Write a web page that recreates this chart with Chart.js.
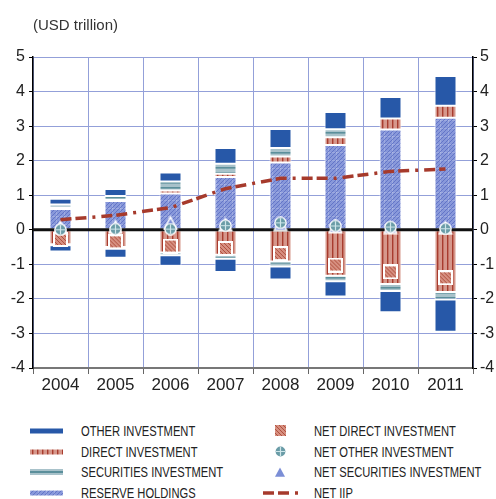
<!DOCTYPE html>
<html>
<head>
<meta charset="utf-8">
<script src="https://cdn.jsdelivr.net/npm/chart.js@4.4.1/dist/chart.umd.min.js"></script>
<style>
  html,body{margin:0;padding:0;background:#fff;}
  #wrap{position:relative;width:496px;height:499px;overflow:hidden;}
  #chartBox{position:absolute;left:0;top:0;width:496px;height:410px;}
  #unit{position:absolute;left:33px;top:16px;font:15px "Liberation Sans",Arial,sans-serif;color:#333;line-height:18px;}
  .lg{position:absolute;font:15px "Liberation Sans",Arial,sans-serif;color:#222;line-height:18px;white-space:nowrap;transform:scaleX(0.745);transform-origin:0 50%;}
  .sw{position:absolute;}
</style>
</head>
<body>
<div id="wrap">
  <div id="chartBox"><canvas id="c"></canvas></div>
  <div id="unit">(USD trillion)</div>
  <div id="legend"></div>
</div>
<script>
// ---- data ----
const categories = ['2004','2005','2006','2007','2008','2009','2010','2011'];
const reserveHoldings   = [0.60, 0.83, 1.05, 1.53, 1.95, 2.45, 2.90, 3.24];
const directAssets      = [0.04, 0.04, 0.09, 0.09, 0.17, 0.23, 0.32, 0.35];
const securitiesAssets  = [0.09, 0.11, 0.26, 0.29, 0.25, 0.23, 0.00, 0.00];
const otherAssets       = [0.17, 0.20, 0.26, 0.46, 0.55, 0.50, 0.62, 0.86];
const directLiab        = [-0.42, -0.50, -0.66, -0.72, -0.92, -1.33, -1.57, -1.80];
const securitiesLiab    = [-0.03, -0.05, -0.08, -0.12, -0.14, -0.16, -0.20, -0.22];
const otherLiab         = [-0.18, -0.26, -0.30, -0.38, -0.38, -0.44, -0.62, -0.93];
const netDirect         = [-0.28, -0.35, -0.47, -0.54, -0.69, -1.02, -1.22, -1.39];
const netOther          = [0.00, 0.02, 0.02, 0.12, 0.20, 0.11, 0.08, 0.03];
const netSecurities     = [0.08, 0.09, 0.20, 0.15, 0.16, 0.10, 0.08, 0.06];
const netIIP            = [0.29, 0.42, 0.64, 1.19, 1.49, 1.49, 1.69, 1.76];
const yTicks = [-4,-3,-2,-1,0,1,2,3,4,5];
const legendLeft  = ['OTHER INVESTMENT','DIRECT INVESTMENT','SECURITIES INVESTMENT','RESERVE HOLDINGS'];
const legendRight = ['NET DIRECT INVESTMENT','NET OTHER INVESTMENT','NET SECURITIES INVESTMENT','NET IIP'];

// ---- styles ----
const FONT = '"Liberation Sans", Arial, Helvetica, sans-serif';
const C_OTHER = '#2758a8';
const C_IIP = '#a63a2c';
const GRID = '#93a0d9';

function tile(w,h,draw){const c=document.createElement('canvas');c.width=w;c.height=h;draw(c.getContext('2d'),w,h);return c;}
const reserveTile = tile(8,8,(g,w,h)=>{
  g.fillStyle='#8898da';g.fillRect(0,0,w,h);
  g.fillStyle='rgba(255,255,255,0.18)';g.fillRect(0,0,w,1);g.fillRect(0,0,1,h);
  g.strokeStyle='rgba(80,100,190,0.75)';g.lineWidth=0.9;
  for(const k of [0,4,8,12,16]){g.beginPath();g.moveTo(-2,k+2);g.lineTo(k+2,-2);g.stroke();}
});
const directTile = tile(5,4,(g,w,h)=>{
  g.fillStyle='#d6978b';g.fillRect(0,0,w,h);
  g.fillStyle='#a83c2e';g.fillRect(2,0,1.4,h);
});
const securitiesTile = tile(1,5,(g,w,h)=>{
  g.fillStyle='#a8c2ca';g.fillRect(0,0,w,h);
  g.fillStyle='#5b8f9b';g.fillRect(0,2,w,1.6);
});
function pat(t){return document.createElement('canvas').getContext('2d').createPattern(t,'repeat');}

const squareMark = tile(15,15,(g)=>{
  g.fillStyle='#fff';g.fillRect(0,0,15,15);
  g.fillStyle='#d68f80';g.fillRect(2,2,11,11);
  g.save();g.beginPath();g.rect(2,2,11,11);g.clip();
  g.strokeStyle='#b0503e';g.lineWidth=1;
  for(let x=-12;x<=12;x+=4){g.beginPath();g.moveTo(x,0);g.lineTo(x+15,15);g.stroke();}
  g.restore();
});
const circleMark = tile(13,13,(g)=>{
  g.fillStyle='#fff';g.beginPath();g.arc(6.5,6.5,6.3,0,Math.PI*2);g.fill();
  g.fillStyle='#6a9ca7';g.beginPath();g.arc(6.5,6.5,4.9,0,Math.PI*2);g.fill();
  g.strokeStyle='#cfe6ea';g.lineWidth=1.2;
  g.beginPath();g.moveTo(6.5,2);g.lineTo(6.5,11);g.moveTo(2,6.5);g.lineTo(11,6.5);g.stroke();
});
const triMark = tile(16,15,(g)=>{
  g.fillStyle='#fff';g.beginPath();g.moveTo(8,0);g.lineTo(0.5,14.5);g.lineTo(15.5,14.5);g.closePath();g.fill();
  g.fillStyle='#7b8ed6';g.beginPath();g.moveTo(8,3.5);g.lineTo(3,12.8);g.lineTo(13,12.8);g.closePath();g.fill();
});

function barDs(label,data,bg,order){
  return {type:'bar',label,data,backgroundColor:bg,borderColor:'rgba(255,255,255,0.95)',borderWidth:1,borderSkipped:false,
    categoryPercentage:1,barPercentage:0.4,order,yAxisID:'y',xAxisID:'x'};
}
function markDs(label,data,img,order){
  return {type:'line',label,data,showLine:false,pointStyle:img,pointRadius:7,pointHoverRadius:7,order,yAxisID:'y2',xAxisID:'x',
    borderColor:'transparent',backgroundColor:'transparent',clip:false};
}

const zeroLine = {
  id:'zeroLine',
  beforeDraw(chart){chart.$zeroDone=false;},
  beforeDatasetDraw(chart,args){
    if(chart.$zeroDone) return;
    if(args.meta.type==='bar') return;
    const y=chart.scales.y.getPixelForValue(0), a=chart.chartArea, ctx=chart.ctx;
    ctx.save();ctx.strokeStyle='#111';ctx.lineWidth=3;ctx.beginPath();ctx.moveTo(a.left,y);ctx.lineTo(a.right,y);ctx.stroke();ctx.restore();
    chart.$zeroDone=true;
  }
};

new Chart(document.getElementById('c'),{
  data:{
    labels:categories,
    datasets:[
      {type:'line',label:'NET IIP',data:netIIP,borderColor:C_IIP,borderWidth:3.5,borderDash:[11,4,11,6,3,6],pointRadius:0,fill:false,order:0,yAxisID:'y2',xAxisID:'x',tension:0},
      markDs('NET OTHER INVESTMENT',netOther,circleMark,1),
      markDs('NET SECURITIES INVESTMENT',netSecurities,triMark,2),
      markDs('NET DIRECT INVESTMENT',netDirect,squareMark,3),
      barDs('RESERVE HOLDINGS',reserveHoldings,pat(reserveTile),10),
      barDs('DIRECT INVESTMENT',directAssets,pat(directTile),11),
      barDs('SECURITIES INVESTMENT',securitiesAssets,pat(securitiesTile),12),
      barDs('OTHER INVESTMENT',otherAssets,C_OTHER,13),
      barDs('DIRECT INVESTMENT (L)',directLiab,pat(directTile),14),
      barDs('SECURITIES INVESTMENT (L)',securitiesLiab,pat(securitiesTile),15),
      barDs('OTHER INVESTMENT (L)',otherLiab,C_OTHER,16)
    ]
  },
  options:{
    responsive:true,maintainAspectRatio:false,animation:false,
    layout:{padding:{top:57,bottom:0,left:0,right:0}},
    plugins:{legend:{display:false},tooltip:{enabled:false}},
    scales:{
      x:{stacked:true,offset:true,
        grid:{color:GRID,lineWidth:1,offset:true,tickColor:'#666',tickLength:6},
        border:{color:'#777',width:2},
        ticks:{color:'#222',font:{family:FONT,size:17},padding:1},
        afterFit(s){s.height=42;}
      },
      y:{stacked:true,min:-4,max:5,position:'left',
        afterBuildTicks(s){s.ticks=yTicks.map(v=>({value:v}));},
        ticks:{color:'#222',font:{family:FONT,size:16},padding:4},
        grid:{color:(c)=>c.tick&&c.tick.value===0?'rgba(0,0,0,0)':GRID,lineWidth:1,tickColor:'#000',tickLength:4},
        border:{color:'#000',width:1.5},
        afterFit(s){s.width=33;}
      },
      y2:{stacked:false,min:-4,max:5,position:'right',
        afterBuildTicks(s){s.ticks=yTicks.map(v=>({value:v}));},
        ticks:{color:'#222',font:{family:FONT,size:16},padding:3},
        grid:{drawOnChartArea:false,tickColor:'#000',tickLength:4},
        border:{color:'#000',width:1.5},
        afterFit(s){s.width=23;}
      }
    }
  },
  plugins:[zeroLine]
});

// ---- legend (HTML) ----
const rowY=[431,452,472,493];
const lg=document.getElementById('legend');
function addText(txt,x,cy){const d=document.createElement('div');d.className='lg';d.textContent=txt;d.style.left=x+'px';d.style.top=(cy-9)+'px';lg.appendChild(d);}
function addSw(w,h,x,y,draw){const c=document.createElement('canvas');c.width=w;c.height=h;c.className='sw';c.style.left=x+'px';c.style.top=y+'px';draw(c.getContext('2d'),w,h);lg.appendChild(c);}
// left column
addSw(33,6,30,rowY[0]-3,(g,w,h)=>{g.fillStyle=C_OTHER;g.fillRect(0,0.5,w,5);});
addSw(33,6,30,rowY[1]-3,(g,w,h)=>{g.fillStyle=g.createPattern(directTile,'repeat');g.fillRect(0,0.5,w,5);});
addSw(33,6,30,rowY[2]-3,(g,w,h)=>{g.fillStyle='#a8c2ca';g.fillRect(0,0,w,6);g.fillStyle='#5b8f9b';g.fillRect(0,2,w,2);});
addSw(33,6,30,rowY[3]-3,(g,w,h)=>{g.fillStyle=g.createPattern(reserveTile,'repeat');g.fillRect(0,0.5,w,5);});
legendLeft.forEach((t,i)=>addText(t,81,rowY[i]));
// right column
addSw(15,15,273,rowY[0]-8,(g)=>g.drawImage(squareMark,0,0));
addSw(13,13,274,rowY[1]-7,(g)=>g.drawImage(circleMark,0,0));
addSw(16,15,272,rowY[2]-8,(g)=>g.drawImage(triMark,0,0));
addSw(36,6,263,rowY[3]-3,(g,w,h)=>{g.strokeStyle=C_IIP;g.lineWidth=3.5;g.setLineDash([11,4,11,6,3,6]);g.beginPath();g.moveTo(0,3);g.lineTo(w,3);g.stroke();});
legendRight.forEach((t,i)=>addText(t,314,rowY[i]));
</script>
</body>
</html>
